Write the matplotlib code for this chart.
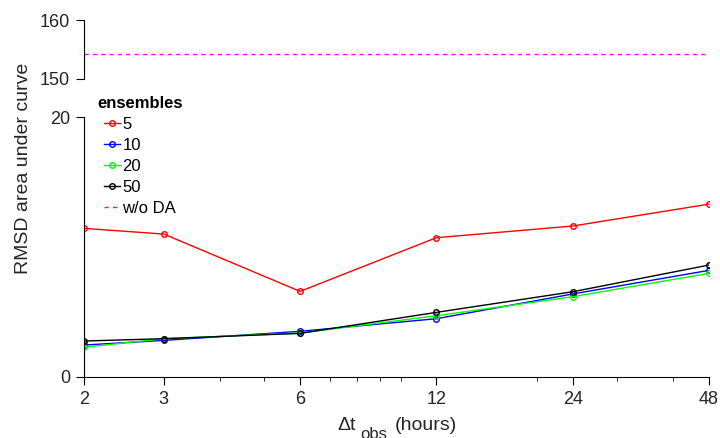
import matplotlib
matplotlib.use("Agg")
import matplotlib.pyplot as plt
from matplotlib.ticker import NullFormatter

plt.rcParams['font.family'] = ['Liberation Sans', 'DejaVu Sans']

# data
dt_obs = [2, 3, 6, 12, 24, 48]
ens_labels = ['5', '10', '20', '50']
rmsd_5 = [11.44, 11.0, 6.58, 10.72, 11.62, 13.31]
rmsd_10 = [2.44, 2.80, 3.50, 4.47, 6.38, 8.20]
rmsd_20 = [2.27, 2.93, 3.37, 4.70, 6.17, 7.97]
rmsd_50 = [2.75, 2.93, 3.34, 4.96, 6.55, 8.61]
no_da = 154.2
colors = ['#ff0000', '#0000ff', '#00ff00', '#000000']

fig = plt.figure(figsize=(7.2, 4.38), dpi=100)
ax_top = fig.add_axes([0.1167, 0.820, 0.868, 0.134])
ax = fig.add_axes([0.1167, 0.140, 0.868, 0.592])

tick_color = '#262626'

# lower panel
handles = []
for vals, c, lab in zip([rmsd_5, rmsd_10, rmsd_20, rmsd_50], colors, ens_labels):
    h, = ax.plot(dt_obs, vals, '-o', color=c, lw=1, markersize=4,
                 markerfacecolor='none', markeredgewidth=1, label=lab)
    handles.append(h)

ax.set_xscale('log')
ax.set_xlim(2, 48)
ax.set_ylim(0, 20)
ax.set_xticks(dt_obs)
ax.set_xticklabels([str(v) for v in dt_obs])
ax.set_xticks([4, 5, 7, 8, 9, 10, 20, 30, 40], minor=True)
ax.xaxis.set_minor_formatter(NullFormatter())
ax.set_yticks([0, 20])
ax.set_yticks([], minor=True)
for s in ['top', 'right']:
    ax.spines[s].set_visible(False)
ax.tick_params(axis='both', which='major', direction='out', length=6,
               labelsize=13, labelcolor=tick_color, pad=4)
ax.tick_params(axis='x', which='minor', direction='out', length=3)

# upper panel
h_da, = ax_top.plot(dt_obs, [no_da] * len(dt_obs), color='#ff00ff', lw=1,
                    ls=(0, (3, 3)), label='w/o DA')
ax_top.set_xscale('log')
ax_top.set_xlim(2, 48)
ax_top.set_ylim(150, 160)
ax_top.set_yticks([150, 160])
ax_top.set_yticks([], minor=True)
ax_top.set_xticks([])
ax_top.set_xticks([], minor=True)
for s in ['top', 'right', 'bottom']:
    ax_top.spines[s].set_visible(False)
ax_top.tick_params(axis='y', direction='out', length=6, labelsize=13,
                   labelcolor=tick_color, pad=4)

# legend
handles.append(h_da)
fig.text(97 / 720, 1 - 103 / 438, 'ensembles', fontsize=12, weight='bold',
         ha='left', va='center')
fig.legend(handles=handles, labels=ens_labels + ['w/o DA'],
           loc='upper left', bbox_to_anchor=(104 / 720, 1 - 117 / 438),
           frameon=False, fontsize=12, handlelength=0.96, handletextpad=0.15,
           labelspacing=0.36, borderpad=0, borderaxespad=0)

# axis labels
fig.text(24 / 720, 1 - 168 / 438, 'RMSD area under curve', rotation=90,
         fontsize=14, ha='center', va='center', color=tick_color)
fig.text(337 / 720, 1 - 430 / 438, '\u0394t', fontsize=14, ha='left',
         va='baseline', color=tick_color)
fig.text(360 / 720, 1 - 439 / 438, 'obs', fontsize=12, ha='left',
         va='baseline', color=tick_color)
fig.text(395 / 720, 1 - 430 / 438, '(hours)', fontsize=14, ha='left',
         va='baseline', color=tick_color)

fig.savefig('out.png', dpi=100)
